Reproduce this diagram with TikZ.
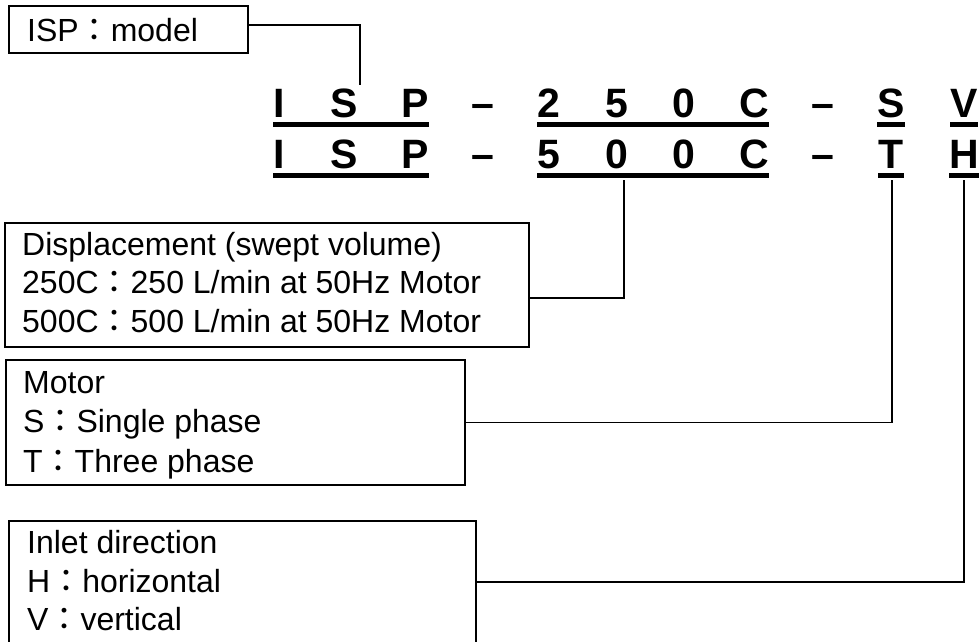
\documentclass[tikz,border=0pt]{standalone}
\usepackage{fontspec}
\setmainfont{Liberation Sans}
\newfontfamily\cjk{Noto Sans CJK JP}
\usetikzlibrary{calc}
\newcommand{\fcolon}{{\cjk ：}}
\begin{document}
\begin{tikzpicture}[x=1pt,y=-1pt,
    every node/.style={inner sep=0pt},
    box/.style={draw,line width=1.6pt,anchor=north west},
    entry/.style={anchor=base west,font=\fontsize{32}{38}\selectfont},
    code/.style={anchor=base,font=\fontsize{41}{48}\selectfont\bfseries},
    wire/.style={line width=1.6pt},
    uline/.style={line width=5pt}]
  \useasboundingbox (0,0) rectangle (979,641);
  \clip (0,0) rectangle (979,641);

  % model code, two rows
  \foreach \x/\a/\b [count=\i from 0] in {279/I/I,344/S/S,415/P/P,483/--/--,549/2/5,617/5/0,684/0/0,754/C/C,823/--/--,891/S/T,964/V/H}{
    \node[code] (top\i) at (\x,117) {\a};
    \node[code] (bot\i) at (\x,168) {\b};
  }
  \foreach \r in {top,bot}
    \foreach \s/\e in {0/2,4/7,9/9,10/10}
      \draw[uline] ($(\r\s.base west)+(0,7)$) -- ($(\r\e.base east)+(0,7)$);

  % legend boxes
  \node[box,minimum width=239,minimum height=47] (ispbox) at (8,5) {};
  \node[entry] (ispname) at (27,41) {ISP\fcolon model};

  \node[box,minimum width=524,minimum height=124] (dispbox) at (4,222) {};
  \node[entry] (disphead) at (22,255) {Displacement (swept volume)};
  \node[entry] (dispa) at (22,293) {250C\fcolon 250 L/min at 50Hz Motor};
  \node[entry] (dispb) at (22,332) {500C\fcolon 500 L/min at 50Hz Motor};

  \node[box,minimum width=459,minimum height=125] (motorbox) at (5,359) {};
  \node[entry] (motorhead) at (23,393) {Motor};
  \node[entry] (motora) at (23,432) {S\fcolon Single phase};
  \node[entry] (motorb) at (23,472) {T\fcolon Three phase};

  \node[box,minimum width=467,minimum height=160] (inletbox) at (8,520) {};
  \node[entry] (inlethead) at (27,553) {Inlet direction};
  \node[entry] (inleta) at (27,592) {H\fcolon horizontal};
  \node[entry] (inletb) at (27,630) {V\fcolon vertical};

  % connectors
  \coordinate (ispcut) at (360,85);
  \coordinate (dispcut) at (624,180);
  \coordinate (motorcut) at (892,180);
  \coordinate (motorend) at (892,423);
  \coordinate (inletcut) at (964,180);
  \draw[wire] ([yshift=4.5pt]ispbox.east) -| (ispcut);
  \draw[wire] (dispcut) |- ([yshift=-13pt]dispbox.east);
  \draw[wire] (motorcut) -- (motorend);
  \draw[wire] (motorbox.east) -- (motorbox.east -| motorcut);
  \draw[wire] (inletcut) |- ($(inletbox.north east)+(0,62)$);
\end{tikzpicture}
\end{document}
